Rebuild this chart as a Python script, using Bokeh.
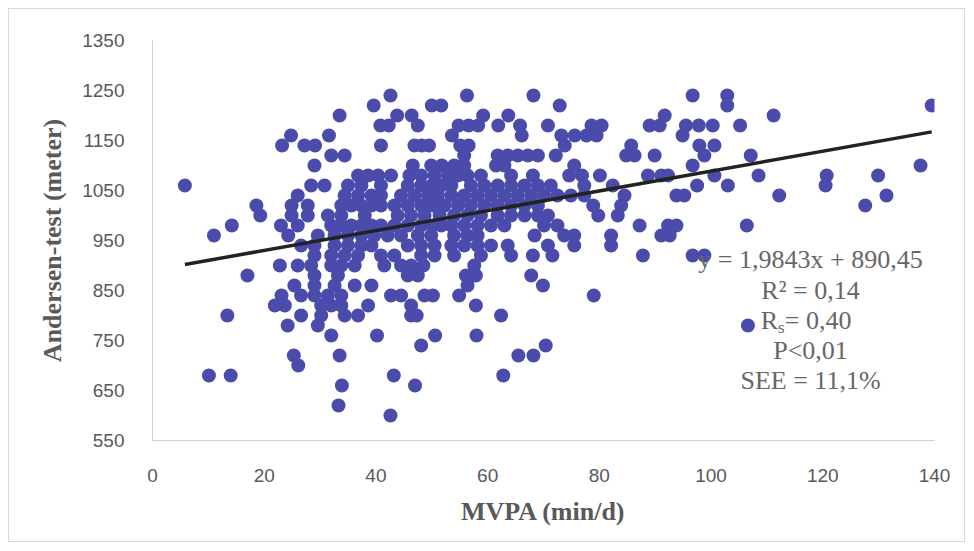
from bokeh.plotting import figure
from bokeh.models import FixedTicker, Label
from bokeh.embed import file_html
from bokeh.resources import INLINE

# Andersen-test result levels (meter) and the MVPA values (min/d) observed at each level
andersen_levels = [1240, 1220, 1200, 1180, 1160, 1140, 1120, 1100, 1080, 1060,
                   1040, 1020, 1000, 980, 960, 940, 920, 900, 880, 860,
                   840, 820, 800, 780, 760, 740, 720, 700, 680, 660, 620, 600]
mvpa_at_level = [
    [42.6, 56.3, 68.2, 96.7, 102.9],
    [39.6, 50.0, 51.7, 72.9, 102.9, 139.5],
    [33.5, 43.8, 46.4, 59.2, 63.7, 91.7, 111.2],
    [40.8, 42.3, 47.5, 54.8, 56.6, 58.3, 61.9, 65.8, 70.8, 78.6, 80.4, 89.0, 90.8, 95.5, 97.8, 100.3, 105.2],
    [24.8, 31.6, 53.6, 66.1, 73.2, 75.6, 77.7, 79.5, 94.9],
    [23.2, 27.2, 29.1, 40.9, 46.9, 48.2, 49.5, 55.1, 56.6, 73.8, 85.7, 97.9, 100.6],
    [32.0, 34.4, 55.8, 61.8, 63.6, 65.4, 67.2, 69.0, 72.2, 84.8, 86.3, 89.9, 98.8, 107.1],
    [29.0, 46.6, 49.9, 51.8, 54.0, 55.8, 61.5, 63.0, 75.5, 96.7, 137.5],
    [36.8, 38.6, 40.4, 42.7, 46.0, 48.1, 50.5, 52.9, 54.7, 56.4, 58.8, 64.2, 68.1, 74.6, 76.9,
     80.1, 88.7, 91.1, 92.3, 100.6, 108.5, 120.7, 129.9],
    [5.8, 28.4, 30.8, 35.0, 37.4, 40.9, 45.7, 48.1, 50.0, 51.7, 53.5, 57.0, 59.4, 61.8, 64.2, 66.6, 69.0,
     71.3, 77.3, 82.4, 97.5, 103.0, 120.5],
    [26.0, 34.4, 36.8, 39.2, 40.9, 44.5, 46.9, 49.3, 51.1, 53.5, 55.8, 58.2, 60.6, 63.0, 65.4, 67.8, 70.1,
     72.5, 74.9, 77.3, 84.5, 93.8, 95.2, 112.2, 131.4],
    [18.6, 24.9, 27.8, 33.8, 35.6, 37.4, 39.2, 40.9, 43.3, 45.7, 48.1, 50.2, 52.3, 54.7, 57.0, 59.4, 61.8,
     64.2, 66.6, 69.0, 78.9, 83.9, 127.6],
    [19.3, 24.9, 27.8, 31.4, 33.8, 38.0, 43.9, 46.3, 48.7, 51.4, 54.0, 56.4, 58.8, 61.8, 64.2, 66.6, 69.0,
     70.8, 79.8, 83.3],
    [14.2, 23.0, 26.0, 32.0, 33.8, 35.6, 37.4, 39.2, 40.9, 43.3, 45.7, 48.1, 50.2, 51.7, 53.5, 55.8, 58.2,
     60.6, 63.0, 70.1, 72.5, 87.2, 92.3, 93.8, 106.4],
    [11.0, 24.3, 29.6, 32.6, 35.0, 37.4, 39.7, 42.1, 44.5, 47.5, 49.9, 54.0, 56.4, 58.2, 68.4, 73.7, 75.5,
     82.1, 91.1, 92.6],
    [26.6, 29.0, 32.6, 35.0, 37.4, 39.2, 45.7, 48.1, 50.5, 53.5, 55.8, 58.2, 60.6, 63.6, 70.8, 75.5, 82.1],
    [29.0, 32.0, 34.4, 36.8, 40.9, 43.3, 48.1, 50.5, 54.0, 58.8, 64.2, 68.1, 71.6, 87.8, 96.7, 98.8],
    [22.8, 26.0, 28.4, 32.0, 33.8, 36.2, 41.5, 44.5, 46.3, 48.5, 57.6],
    [17.0, 29.0, 33.2, 45.7, 47.5, 56.1, 57.9, 67.8],
    [25.4, 29.0, 32.6, 36.2, 39.2, 56.4, 69.9],
    [23.1, 26.6, 29.0, 31.4, 33.8, 42.7, 44.5, 48.7, 50.2, 54.9, 79.0],
    [21.9, 23.7, 30.2, 32.0, 33.8, 38.6, 46.3, 57.9],
    [13.4, 26.6, 30.2, 34.4, 36.8, 46.3, 47.3, 62.4],
    [24.2, 29.6, 106.6],
    [32.0, 40.2, 50.6, 58.0],
    [48.1, 70.4],
    [25.3, 33.5, 65.5, 68.2],
    [26.1],
    [10.1, 14.0, 43.2, 62.8],
    [33.9, 47.0],
    [33.3],
    [42.6],
]

x_ticks = [0, 20, 40, 60, 80, 100, 120, 140]
y_ticks = [550, 650, 750, 850, 950, 1050, 1150, 1250, 1350]

# linear fit reported in the chart
fit_slope = 1.9843
fit_intercept = 890.45
stat_lines = ["y = 1,9843x + 890,45", "R\u00b2 = 0,14", None, "P<0,01", "SEE = 11,1%"]

mvpa = []
andersen = []
for level, xs in zip(andersen_levels, mvpa_at_level):
    for xv in xs:
        mvpa.append(xv)
        andersen.append(level)

p = figure(width=957, height=534, x_range=(0, 140), y_range=(550, 1350),
           output_backend="svg", toolbar_location=None,
           min_border_left=143, min_border_right=32, min_border_top=31, min_border_bottom=103)
p.styles = {"margin": "8px", "border": "1px solid #d9d9d9"}
p.grid.visible = False
p.outline_line_color = None
p.background_fill_color = "white"
p.border_fill_color = "white"

for ax in (p.xaxis[0], p.yaxis[0]):
    ax.major_tick_line_color = None
    ax.minor_tick_line_color = None
    ax.axis_line_color = "#d0d0d0"
    ax.axis_line_width = 1
    ax.major_label_text_font = "Liberation Sans"
    ax.major_label_text_font_size = "19px"
    ax.major_label_text_color = "#595959"
    ax.major_label_standoff = 22
    ax.axis_label_text_font = "Liberation Serif"
    ax.axis_label_text_font_style = "bold"
    ax.axis_label_text_font_size = "26px"
    ax.axis_label_text_color = "#595959"
    ax.axis_label_standoff = 12

p.xaxis.ticker = FixedTicker(ticks=x_ticks)
p.yaxis.ticker = FixedTicker(ticks=y_ticks)
p.xaxis.axis_label = "MVPA (min/d)"
p.yaxis.axis_label = "Andersen-test (meter)"

p.scatter(mvpa, andersen, size=14, fill_color="#4a4bab", line_color=None)

fx = [min(mvpa), max(mvpa)]
fy = [fit_slope * v + fit_intercept for v in fx]
p.line(fx, fy, line_color="#222222", line_width=3.5)

text_style = dict(text_font="Liberation Serif", text_font_size="26px", text_color="#666666",
                  text_baseline="middle")
line_y = [913, 851, 791, 730, 670]
for t, ty in zip(stat_lines, line_y):
    if t is not None:
        p.add_layout(Label(x=117.8, y=ty, text=t, text_align="center", **text_style))
# R_s = 0,40 with subscript
p.add_layout(Label(x=108.9, y=791, text="R", text_align="left", **text_style))
p.add_layout(Label(x=112.0, y=776, text="s", text_align="left", text_font="Liberation Serif",
                   text_font_size="17px", text_color="#666666", text_baseline="middle"))
p.add_layout(Label(x=113.2, y=791, text=" = 0,40", text_align="left", **text_style))

open("out.html", "w").write(file_html(p, INLINE))
